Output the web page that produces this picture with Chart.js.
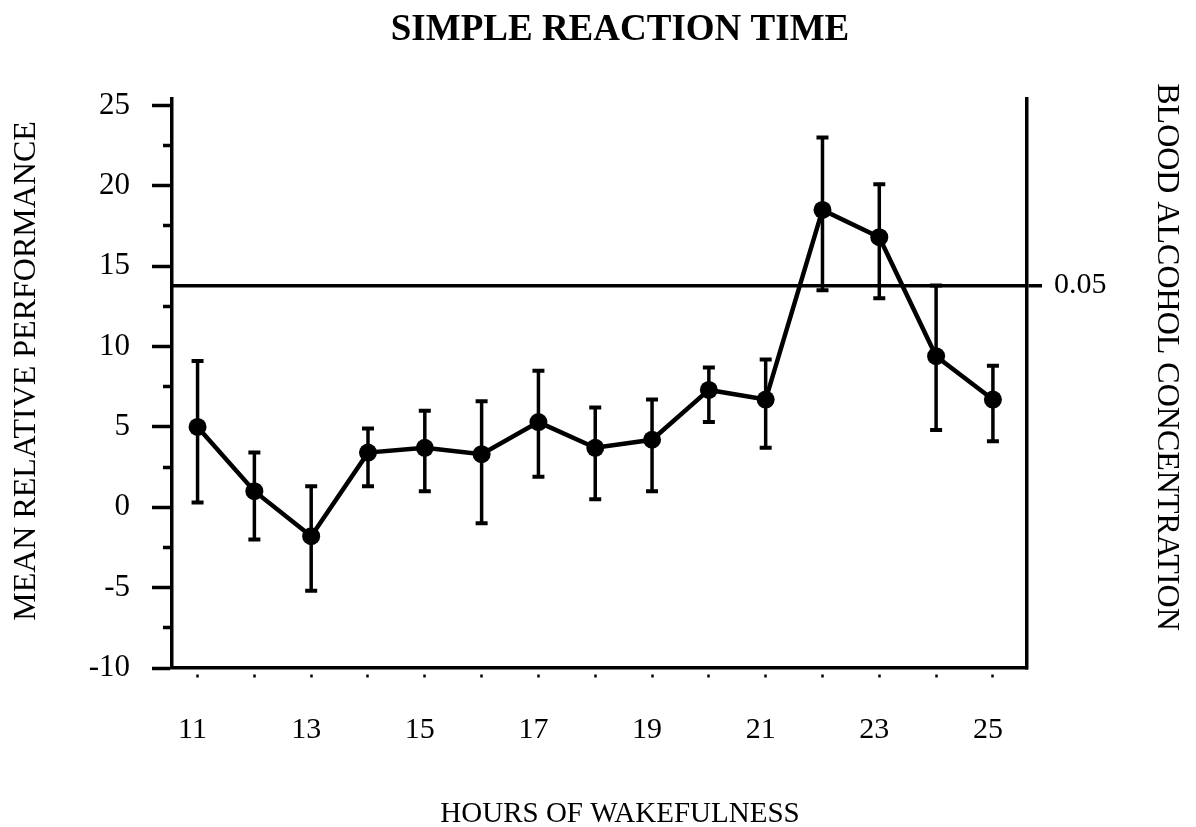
<!DOCTYPE html>
<html>
<head>
<meta charset="utf-8">
<script src="https://cdn.jsdelivr.net/npm/chart.js@4.4.1/dist/chart.umd.min.js"></script>
<style>
html, body { margin: 0; padding: 0; background: #fff; }
</style>
</head>
<body>
<canvas id="myChart" width="1196" height="827"></canvas>
<script>
// values
var hours = [11, 12, 13, 14, 15, 16, 17, 18, 19, 20, 21, 22, 23, 24, 25];
var meanPerf = [5.0, 1.0, -1.8, 3.4, 3.7, 3.3, 5.3, 3.7, 4.2, 7.3, 6.7, 18.5, 16.8, 9.4, 6.7];
var errHigh = [9.1, 3.4, 1.3, 4.9, 6.0, 6.6, 8.5, 6.2, 6.7, 8.7, 9.2, 23.0, 20.1, 13.8, 8.8];
var errLow = [0.3, -2.0, -5.2, 1.3, 1.0, -1.0, 1.9, 0.5, 1.0, 5.3, 3.7, 13.5, 13.0, 4.8, 4.1];
var yTicks = [-10, -7.5, -5, -2.5, 0, 2.5, 5, 7.5, 10, 12.5, 15, 17.5, 20, 22.5, 25];
var xTickLabels = [11, 13, 15, 17, 19, 21, 23, 25];
var bacLevel = 13.8;
var bacLabel = '0.05';

var titleText = 'SIMPLE REACTION TIME';
var xTitle = 'HOURS OF WAKEFULNESS';
var yTitle = 'MEAN RELATIVE PERFORMANCE';
var y2Title = 'BLOOD ALCOHOL CONCENTRATION';

var FONT = "'Liberation Serif', 'Times New Roman', serif";

// error bars with caps, drawn under the line
var errorBars = {
	id: 'errorBars',
	beforeDatasetsDraw: function(chart) {
		var ctx = chart.ctx;
		var xs = chart.scales.x;
		var ys = chart.scales.y;
		ctx.save();
		ctx.strokeStyle = '#000';
		for (var i = 0; i < hours.length; i++) {
			var px = xs.getPixelForValue(hours[i]);
			var top = ys.getPixelForValue(errHigh[i]);
			var bot = ys.getPixelForValue(errLow[i]);
			ctx.lineWidth = 3.5;
			ctx.beginPath();
			ctx.moveTo(px, top);
			ctx.lineTo(px, bot);
			ctx.stroke();
			ctx.lineWidth = 4;
			ctx.beginPath();
			ctx.moveTo(px - 6, top);
			ctx.lineTo(px + 6, top);
			ctx.moveTo(px - 6, bot);
			ctx.lineTo(px + 6, bot);
			ctx.stroke();
		}
		ctx.restore();
	}
};

// titles sit a bit off-centre in the original, so place them by hand
var captions = {
	id: 'captions',
	afterDraw: function(chart) {
		var ctx = chart.ctx;
		ctx.save();
		ctx.fillStyle = '#000';
		ctx.textAlign = 'center';
		ctx.textBaseline = 'middle';

		ctx.font = 'bold 37px ' + FONT;
		ctx.fillText(titleText, 620, 30);

		ctx.font = '29px ' + FONT;
		ctx.fillText(xTitle, 620, 814);

		ctx.font = '32px ' + FONT;
		ctx.save();
		ctx.translate(27, 371);
		ctx.rotate(-Math.PI / 2);
		ctx.fillText(yTitle, 0, 0);
		ctx.restore();

		ctx.save();
		ctx.translate(1166, 357);
		ctx.rotate(Math.PI / 2);
		ctx.fillText(y2Title, 0, 0);
		ctx.restore();

		ctx.restore();
	}
};

var points = [];
for (var i = 0; i < hours.length; i++) {
	points.push({x: hours[i], y: meanPerf[i]});
}

var myChart = new Chart(document.getElementById('myChart'), {
	type: 'line',
	data: {
		datasets: [{
			data: points,
			borderColor: '#000',
			borderWidth: 4.5,
			pointRadius: 9,
			pointBackgroundColor: '#000',
			pointBorderWidth: 0,
			tension: 0,
			xAxisID: 'x',
			yAxisID: 'y'
		}]
	},
	options: {
		responsive: false,
		animation: false,
		devicePixelRatio: 1,
		layout: { padding: { left: 7, right: 12, top: 99, bottom: 0 } },
		plugins: {
			legend: { display: false },
			tooltip: { enabled: false },
			title: { display: false }
		},
		scales: {
			x: {
				type: 'linear',
				position: 'bottom',
				min: 10.55,
				max: 25.6,
				afterBuildTicks: function(s) {
					s.ticks = hours.map(function(h) { return {value: h}; });
				},
				afterFit: function(s) { s.height = 159; },
				border: { color: '#000', width: 3.5 },
				grid: {
					drawOnChartArea: false,
					tickLength: 12,
					tickWidth: 2.5,
					tickColor: '#000',
					tickBorderDash: [0, 5, 3, 20]
				},
				ticks: {
					autoSkip: false,
					maxRotation: 0,
					padding: 32,
					labelOffset: -5,
					color: '#000',
					font: { family: FONT, size: 30 },
					callback: function(v) {
						return xTickLabels.indexOf(v) >= 0 ? String(v) : '';
					}
				}
			},
			y: {
				type: 'linear',
				position: 'left',
				min: -10,
				max: 25.4,
				afterBuildTicks: function(s) {
					s.ticks = yTicks.map(function(v) { return {value: v}; });
				},
				afterFit: function(s) { s.width = 165; },
				border: { color: '#000', width: 3.5 },
				grid: {
					drawOnChartArea: false,
					tickLength: 20,
					tickWidth: 3.5,
					tickColor: '#000',
					tickBorderDash: function(c) {
						return (c.tick && c.tick.value % 5 !== 0) ? [0, 11, 20, 0] : [];
					}
				},
				ticks: {
					padding: 22,
					color: '#000',
					font: { family: FONT, size: 31 },
					callback: function(v) {
						return v % 5 === 0 ? String(v) : '';
					}
				}
			},
			y2: {
				type: 'linear',
				position: 'right',
				min: -10,
				max: 25.4,
				afterBuildTicks: function(s) {
					s.ticks = [{value: bacLevel}];
				},
				afterFit: function(s) { s.width = 157; },
				border: { color: '#000', width: 3.5 },
				grid: {
					drawOnChartArea: true,
					color: '#000',
					lineWidth: 3.5,
					tickLength: 15,
					tickWidth: 3.5,
					tickColor: '#000'
				},
				ticks: {
					padding: 12,
					color: '#000',
					font: { family: FONT, size: 30 },
					callback: function() { return bacLabel; }
				}
			}
		}
	},
	plugins: [errorBars, captions]
});
</script>
</body>
</html>
